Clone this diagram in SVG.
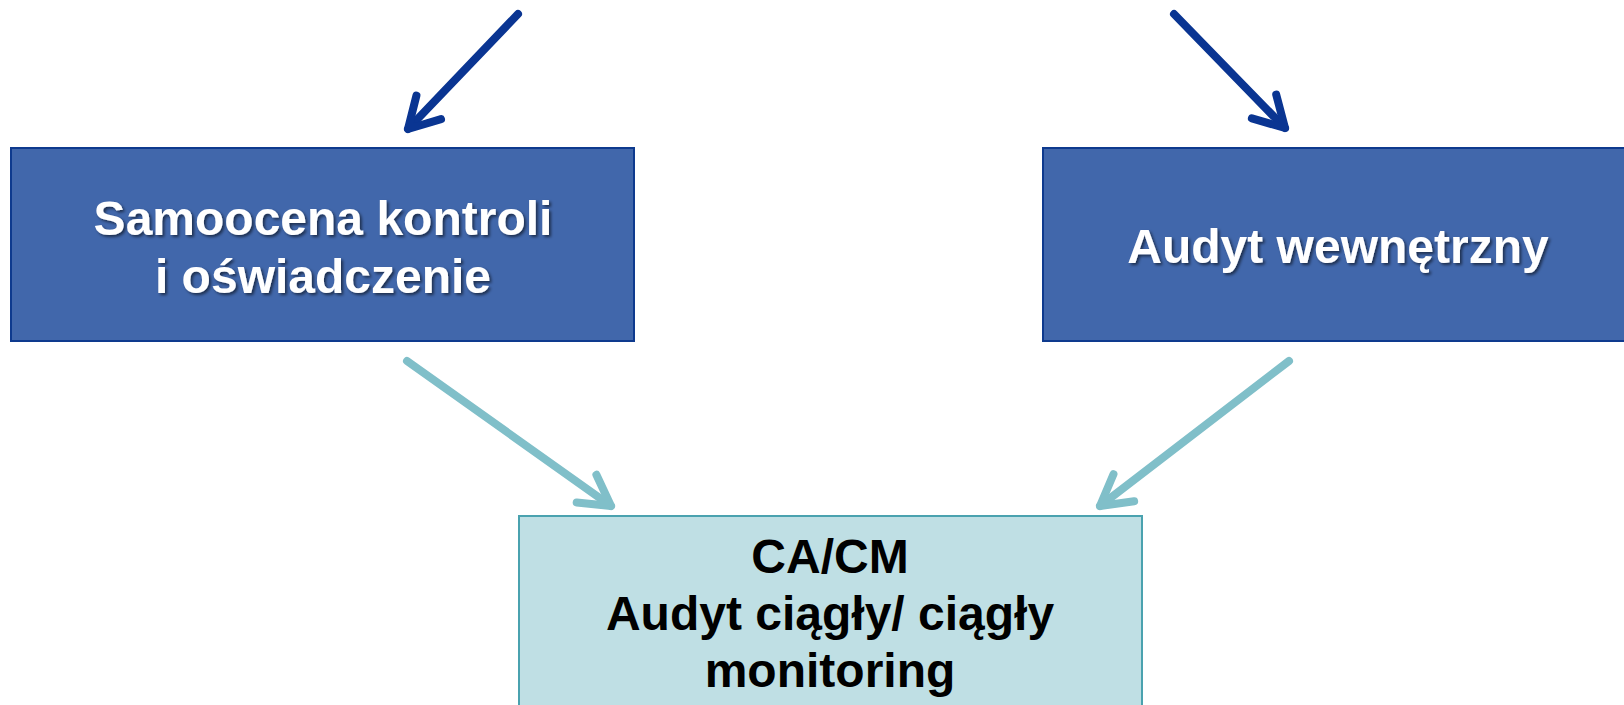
<svg xmlns="http://www.w3.org/2000/svg" width="1624" height="705" viewBox="0 0 1624 705">
  <style>
    .dark { fill: #4167AB; stroke: #0E3A8E; stroke-width: 2; }
    .light { fill: #BFDFE4; stroke: #4AA2AF; stroke-width: 2; }
    .wt { font-family: "Liberation Sans", Arial, sans-serif; font-weight: bold; font-size: 48px; fill: #FFFFFF; text-anchor: middle; }
    .bt { font-family: "Liberation Sans", Arial, sans-serif; font-weight: bold; font-size: 48px; fill: #000000; text-anchor: middle; }
    .a1 { stroke: #0A3592; stroke-width: 8; stroke-linecap: round; fill: none; }
    .a2 { stroke: #80BFC9; stroke-width: 8; stroke-linecap: round; fill: none; }
  </style>
  <defs>
    <filter id="sh" x="-10%" y="-20%" width="120%" height="150%">
      <feDropShadow dx="2" dy="2" stdDeviation="1.5" flood-color="#000000" flood-opacity="0.55"/>
    </filter>
    <marker id="m1" markerUnits="userSpaceOnUse" markerWidth="60" markerHeight="60" viewBox="-40 -30 50 60" refX="0" refY="0" orient="auto" overflow="visible">
      <path d="M -30 -17 L 0 0 L -30 17" fill="none" stroke="#0A3592" stroke-width="8" stroke-linecap="round" stroke-linejoin="round"/>
    </marker>
    <marker id="m2" markerUnits="userSpaceOnUse" markerWidth="60" markerHeight="60" viewBox="-40 -30 50 60" refX="0" refY="0" orient="auto" overflow="visible">
      <path d="M -30 -17 L 0 0 L -30 17" fill="none" stroke="#80BFC9" stroke-width="8" stroke-linecap="round" stroke-linejoin="round"/>
    </marker>
  </defs>
  <rect width="1624" height="705" fill="#FFFFFF"/>

  <g id="connectors">
    <line class="a1" x1="518" y1="14" x2="408" y2="129" marker-end="url(#m1)"/>
    <line class="a1" x1="1174" y1="14" x2="1285" y2="128" marker-end="url(#m1)"/>
    <line class="a2" x1="407" y1="361" x2="611" y2="506" marker-end="url(#m2)"/>
    <line class="a2" x1="1289" y1="361" x2="1100" y2="506" marker-end="url(#m2)"/>
  </g>

  <g id="node-samoocena">
    <rect class="dark" x="11" y="148" width="623" height="193"/>
    <g filter="url(#sh)">
      <text class="wt" x="323" y="235">Samoocena kontroli</text>
      <text class="wt" x="323" y="293">i oświadczenie</text>
    </g>
  </g>

  <g id="node-audyt">
    <rect class="dark" x="1043" y="148" width="590" height="193"/>
    <g filter="url(#sh)">
      <text class="wt" x="1338" y="263">Audyt wewnętrzny</text>
    </g>
  </g>

  <g id="node-cacm">
    <rect class="light" x="519" y="516" width="623" height="200"/>
    <text class="bt" x="830" y="573">CA/CM</text>
    <text class="bt" x="830" y="630">Audyt ciągły/ ciągły</text>
    <text class="bt" x="830" y="687">monitoring</text>
  </g>
</svg>
